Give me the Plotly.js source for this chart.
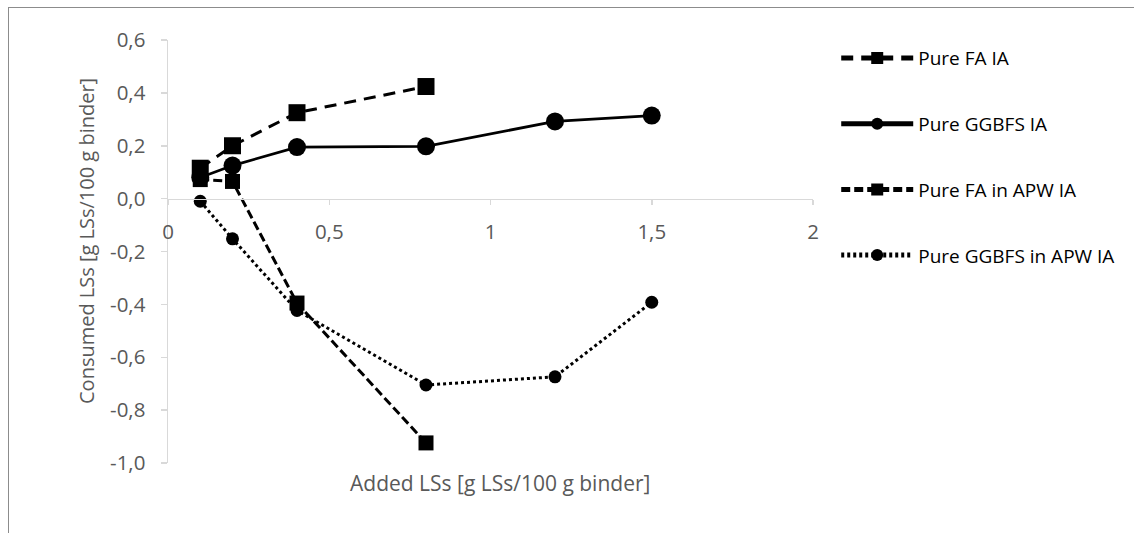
<!DOCTYPE html>
<html>
<head>
<meta charset="utf-8">
<script src="https://cdn.plot.ly/plotly-3.0.1.min.js"></script>
<style>
  html, body { margin: 0; padding: 0; background: #ffffff; }
  #wrap { position: relative; width: 1134px; height: 533px; overflow: hidden; }
  #chart { position: absolute; left: 0; top: 0; width: 1134px; height: 533px; }
  #frame { position: absolute; left: 8px; top: 7px; right: -2px; bottom: -2px;
           border-left: 1.5px solid #8c8c8c; border-top: 1.5px solid #8c8c8c;
           pointer-events: none; }
</style>
</head>
<body>
<div id="wrap">
  <div id="chart"></div>
  <div id="frame"></div>
</div>
<script>
// Added lignosulfonate dose (g LSs / 100 g binder)
const addedFA = [0.1, 0.2, 0.4, 0.8];
const addedGGBFS = [0.1, 0.2, 0.4, 0.8, 1.2, 1.5];

// Consumed lignosulfonate (g LSs / 100 g binder)
const pureFA = [0.115, 0.2, 0.325, 0.424];
const pureGGBFS = [0.08, 0.125, 0.195, 0.198, 0.292, 0.314];
const pureFAinAPW = [0.072, 0.065, -0.395, -0.924];
const pureGGBFSinAPW = [-0.01, -0.152, -0.423, -0.705, -0.674, -0.392];

const seriesNames = ['Pure FA IA', 'Pure GGBFS IA', 'Pure FA in APW IA', 'Pure GGBFS in APW IA'];

const yTickVals = [-1.0, -0.8, -0.6, -0.4, -0.2, 0.0, 0.2, 0.4, 0.6];
const yTickText = ['-1,0', '-0,8', '-0,6', '-0,4', '-0,2', '0,0', '0,2', '0,4', '0,6'];
const xTickVals = [0, 0.5, 1, 1.5, 2];
const xTickText = ['0', '0,5', '1', '1,5', '2'];

const xTitle = 'Added LSs [g LSs/100 g binder]';
const yTitle = 'Consumed LSs [g LSs/100 g binder]';

const FONT = '"Open Sans", "Noto Sans", sans-serif';
const AXIS_GREY = '#d9d9d9';
const TEXT_GREY = '#595959';

const traces = [
  {
    x: addedFA, y: pureFA, name: seriesNames[0], legendgroup: 'a',
    mode: 'lines+markers', type: 'scatter',
    line: { color: '#000', width: 3, dash: '12px,8px' },
    marker: { symbol: 'square', size: 17, color: '#000' }
  },
  {
    x: addedGGBFS, y: pureGGBFS, name: seriesNames[1], legendgroup: 'b',
    mode: 'lines+markers', type: 'scatter',
    line: { color: '#000', width: 2.75 },
    marker: { symbol: 'circle', size: 18, color: '#000' }
  },
  {
    x: addedFA, y: pureFAinAPW, name: seriesNames[2], legendgroup: 'c',
    mode: 'lines+markers', type: 'scatter',
    line: { color: '#000', width: 3, dash: '9px,4px' },
    marker: { symbol: 'square', size: 15, color: '#000' }
  },
  {
    x: addedGGBFS, y: pureGGBFSinAPW, name: seriesNames[3], legendgroup: 'd',
    mode: 'lines+markers', type: 'scatter',
    line: { color: '#000', width: 3, dash: '3px,3px' },
    marker: { symbol: 'circle', size: 13, color: '#000' }
  }
];

const yMin = -1.0, yMax = 0.6;

const layout = {
  width: 1134, height: 533,
  margin: { l: 168, r: 321, t: 40, b: 70 },
  paper_bgcolor: '#ffffff', plot_bgcolor: '#ffffff',
  font: { family: FONT, color: TEXT_GREY },
  showlegend: true,
  legend: {
    x: 1.036, xanchor: 'left', y: 1.002, yanchor: 'top',
    traceorder: 'grouped', tracegroupgap: 38,
    itemwidth: 72, itemsizing: 'constant',
    font: { family: FONT, size: 19, color: '#000' },
    bgcolor: 'rgba(0,0,0,0)'
  },
  xaxis: {
    range: [0, 2],
    anchor: 'free',
    position: (0 - yMin) / (yMax - yMin),
    showgrid: false, zeroline: false,
    showline: true, linecolor: AXIS_GREY, linewidth: 1.5,
    ticks: 'outside', ticklen: 5, tickwidth: 1.5, tickcolor: AXIS_GREY,
    tickvals: xTickVals, ticktext: xTickText,
    ticklabelstandoff: 9,
    tickfont: { family: FONT, size: 20.5, color: TEXT_GREY }
  },
  yaxis: {
    range: [yMin, yMax],
    showgrid: false, zeroline: false,
    showline: true, linecolor: AXIS_GREY, linewidth: 1.5,
    ticks: 'outside', ticklen: 6, tickwidth: 1.5, tickcolor: AXIS_GREY,
    tickvals: yTickVals, ticktext: yTickText,
    ticklabelstandoff: 11,
    tickfont: { family: FONT, size: 20.5, color: TEXT_GREY }
  },
  annotations: [
    {
      text: xTitle, xref: 'paper', yref: 'paper',
      x: (500 - 168) / 645, y: (463 - 483) / 423,
      xanchor: 'center', yanchor: 'middle', showarrow: false,
      font: { family: FONT, size: 21, color: TEXT_GREY }
    },
    {
      text: yTitle, xref: 'paper', yref: 'paper',
      x: (86 - 168) / 645, y: (463 - 241) / 423,
      xanchor: 'center', yanchor: 'middle', showarrow: false, textangle: -90,
      font: { family: FONT, size: 20, color: TEXT_GREY }
    }
  ]
};

Plotly.newPlot('chart', traces, layout, { displayModeBar: false, staticPlot: true });
</script>
</body>
</html>
